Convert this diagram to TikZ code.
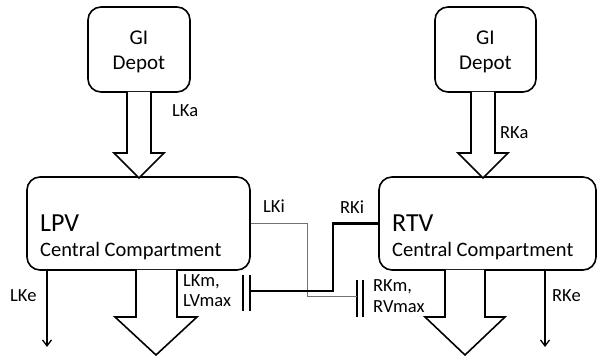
\documentclass[tikz,border=0pt]{standalone}
\usepackage{fontspec}
\setmainfont{Carlito}
\usetikzlibrary{arrows.meta,calc}
\begin{document}
\begin{tikzpicture}[x=1pt,y=-1pt,
  box/.style={draw,line width=1.6pt,rounded corners=13pt,inner sep=0pt},
  wide/.style={draw,line width=1.6pt,fill=white,line join=miter},
  lbl/.style={inner sep=0pt,anchor=base west,font=\fontsize{18.5}{22}\selectfont},
  gitext/.style={inner sep=0pt,anchor=base,font=\fontsize{21}{25}\selectfont},
  bigtext/.style={inner sep=0pt,anchor=base west,font=\fontsize{26}{30}\selectfont},
  cctext/.style={inner sep=0pt,anchor=base west,font=\fontsize{20.5}{24}\selectfont},
  elim/.style={line width=1.3pt,-{Straight Barb[length=6pt,width=9pt,line width=1.3pt]}},
  thinline/.style={draw=black!55,line width=0.8pt},
  thickline/.style={draw=black,line width=2.2pt},
  bar/.style={line width=1.5pt}]
\useasboundingbox (0,0) rectangle (598,358);
% GI depots
\node[box,minimum width=102pt,minimum height=85pt] (gil) at (139,49.5) {};
\node[box,minimum width=101pt,minimum height=85pt] (gir) at (485.5,49.5) {};
\node[gitext] (gilt1) at (139,45) {GI};
\node[gitext] (gilt2) at (139,70) {Depot};
\node[gitext] (girt1) at (485.5,45) {GI};
\node[gitext] (girt2) at (485.5,70) {Depot};
% central compartments
\node[box,minimum width=223pt,minimum height=93pt] (lpv) at (138.5,223.5) {};
\node[box,minimum width=217pt,minimum height=93pt] (rtv) at (487.5,223.5) {};
\node[bigtext] (lpvt) at (40,231.5) {LPV};
\node[cctext] (lpvc) at (40,257) {Central Compartment};
\node[bigtext] (rtvt) at (392,231.5) {RTV};
\node[cctext] (rtvc) at (392,257) {Central Compartment};
% absorption wide arrows
\draw[wide] (127,92) -- (127,153) -- (114,153) -- (139,178) -- (164,153) -- (151,153) -- (151,92);
\draw[wide] (471,92) -- (471,153) -- (458,153) -- (483,178) -- (508,153) -- (495,153) -- (495,92);
% metabolism wide arrows
\draw[wide] (136,270) -- (136,317) -- (115,317) -- (156,355) -- (197,317) -- (177,317) -- (177,270);
\draw[wide] (445,270) -- (445,317) -- (425,317) -- (465,355) -- (505,317) -- (485,317) -- (485,270);
% elimination arrows
\coordinate (lke) at (47,347);
\coordinate (rke) at (545,347);
\draw[elim] (lpv.south -| lke) -- (lke);
\draw[elim] (rtv.south -| rke) -- (rke);
% labels
\node[lbl] (lka) at (172,117) {LKa};
\node[lbl] (rka) at (500,139) {RKa};
\node[lbl] (lkel) at (10,302) {LKe};
\node[lbl] (rkel) at (552,302) {RKe};
\node[lbl] (lki) at (263,213) {LKi};
\node[lbl] (rki) at (340,214) {RKi};
\node[lbl] (lkm) at (183,287) {LKm,};
\node[lbl] (lvm) at (183,307) {LVmax};
\node[lbl] (rkm) at (373,292) {RKm,};
\node[lbl] (rvm) at (373,313) {RVmax};
% inhibition connectors
\coordinate (lb1t) at (243,275); \coordinate (lb1b) at (243,311);
\coordinate (lb2t) at (250,275); \coordinate (lb2b) at (250,311);
\coordinate (rb1t) at (357,280); \coordinate (rb1b) at (357,317);
\coordinate (rb2t) at (363,280); \coordinate (rb2b) at (363,317);
\coordinate (lhit) at (250,291);
\coordinate (rhit) at (357,296);
\coordinate (thinturn) at (307,296);
\coordinate (thickturn) at (333,223.5);
\draw[bar] (lb1t) -- (lb1b);
\draw[bar] (lb2t) -- (lb2b);
\draw[bar] (rb1t) -- (rb1b);
\draw[bar] (rb2t) -- (rb2b);
\draw[thinline] (lpv.east) -| (thinturn) -- (rhit);
\draw[thickline] (lhit) -| (thickturn) -- (rtv.west);
\end{tikzpicture}
\end{document}
